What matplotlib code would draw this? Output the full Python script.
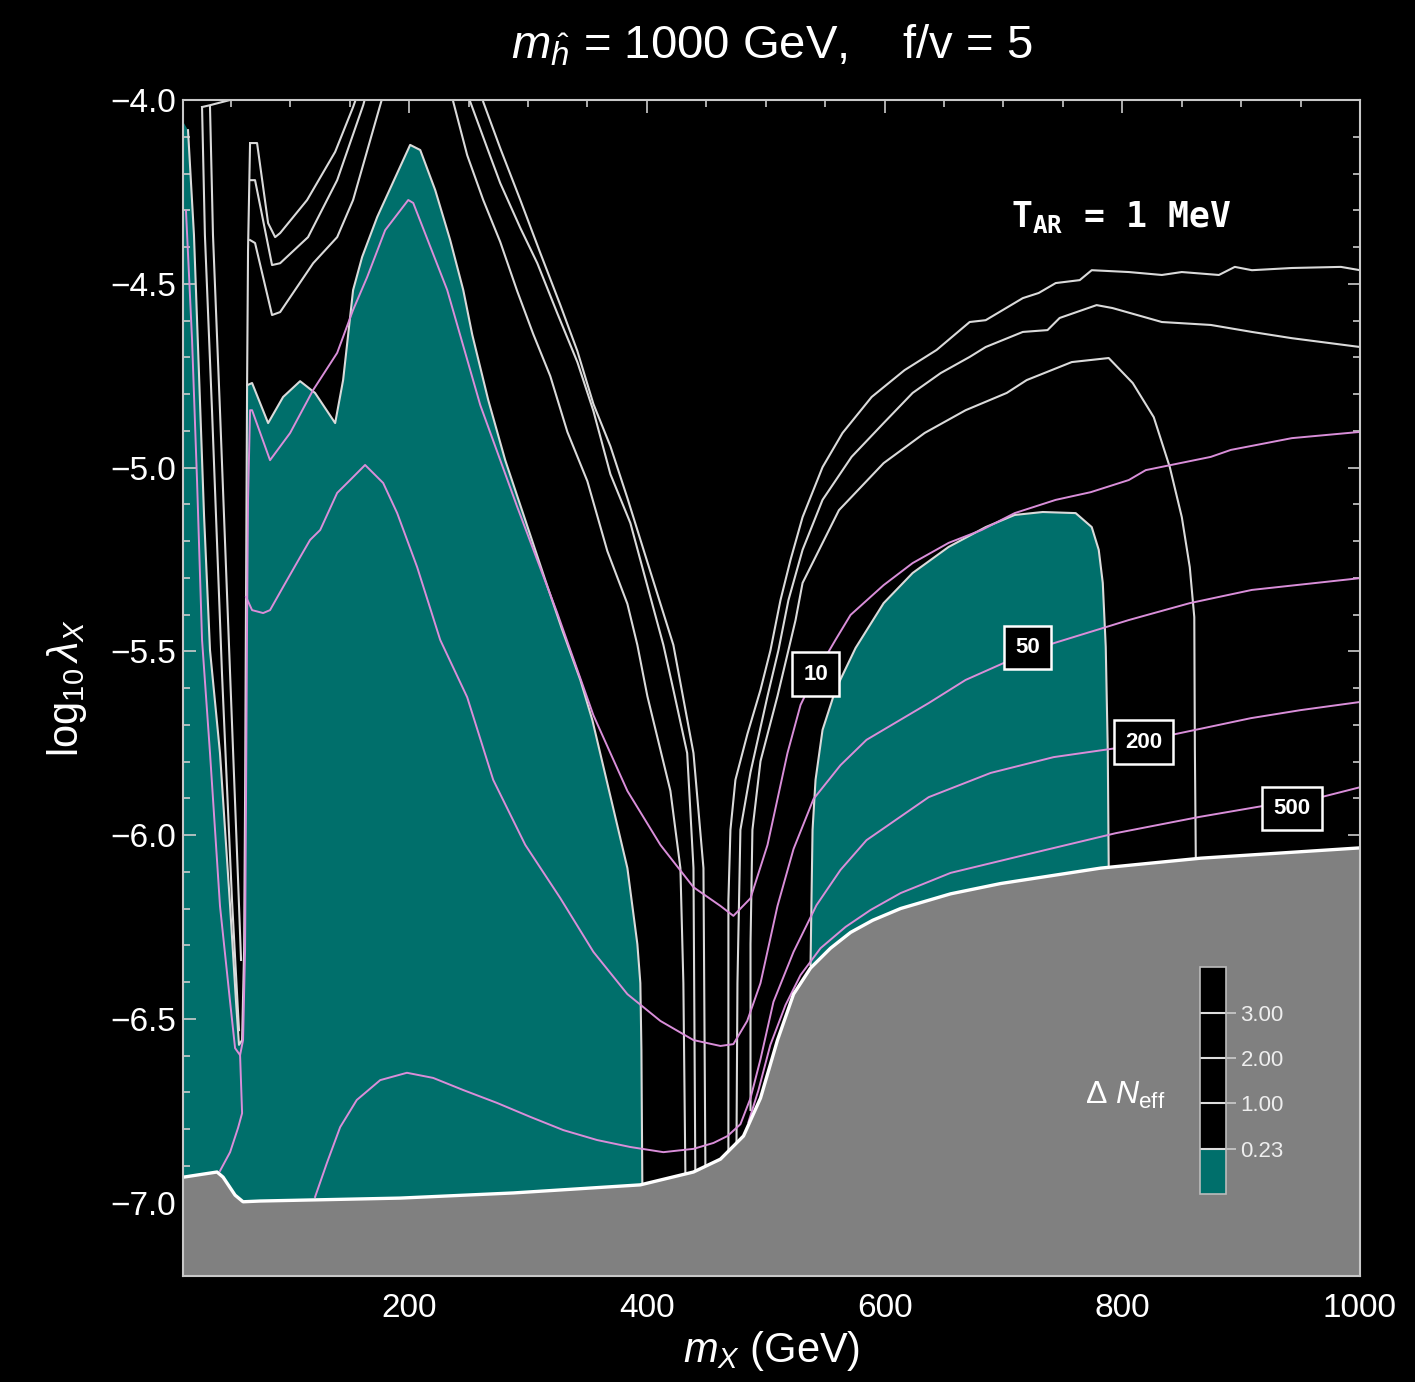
import matplotlib
matplotlib.use('Agg')
import matplotlib.pyplot as plt
from matplotlib.colors import ListedColormap, BoundaryNorm
from matplotlib.cm import ScalarMappable
from matplotlib.ticker import MultipleLocator, FuncFormatter

plt.rcParams['font.family'] = ['Liberation Sans', 'DejaVu Sans']
plt.rcParams['mathtext.fontset'] = 'custom'
plt.rcParams['mathtext.rm'] = 'Liberation Sans'
plt.rcParams['mathtext.it'] = 'Liberation Sans:italic'
plt.rcParams['mathtext.bf'] = 'Liberation Sans:bold'
plt.rcParams['mathtext.sf'] = 'Liberation Sans'
plt.rcParams['mathtext.tt'] = 'DejaVu Sans Mono:bold'

# --- data (m_X in GeV, log10 lambda_X) ---

# lower edge of the allowed region (grey below)
bnd_x = [10, 38.3, 43.4, 53.5, 60.2, 74.5, 192.4, 287.6, 394.5, 439.2, 461.9, 481.3,
         495.6, 509.9, 523.4, 537.7, 554.5, 571.4, 590.0, 613.5, 655.6, 697.7, 781.9,
         866.1, 1000]
bnd_y = [-6.931, -6.917, -6.931, -6.980, -6.998, -6.996, -6.988, -6.974, -6.952, -6.917,
         -6.882, -6.819, -6.716, -6.558, -6.433, -6.362, -6.308, -6.265, -6.232, -6.200,
         -6.160, -6.132, -6.090, -6.063, -6.035]

# Delta N_eff < 0.23 region, left part (strip + big lobe)
teal_a_x = [10, 13.9, 18.9, 23.2, 27.4, 32.4, 40.8, 49.3, 54.3, 56.8, 59.4, 61.1, 61.9,
            62.7, 63.6, 67.8, 81.3, 93.9, 108.2, 120.8, 137.7, 144.4, 152.8, 160.4, 173.1,
            189.9, 200.8, 209.3, 221.9, 234.5, 245.5, 253.1, 266.5, 280.8, 297.7, 314.5,
            328.8, 344.0, 354.1, 365.1, 383.6, 392.0, 394.5, 395.4, 396.2]
teal_a_y = [-4.060, -4.082, -4.367, -4.751, -5.132, -5.497, -5.777, -6.193, -6.454, -6.571,
            -6.558, -6.313, -5.905, -5.361, -4.776, -4.770, -4.879, -4.808, -4.765, -4.797,
            -4.879, -4.762, -4.517, -4.427, -4.318, -4.199, -4.122, -4.136, -4.245, -4.381,
            -4.517, -4.639, -4.816, -4.980, -5.143, -5.306, -5.442, -5.578, -5.687, -5.837,
            -6.090, -6.297, -6.403, -6.585, -6.966]

# Delta N_eff < 0.23 region, right part
teal_b_x = [537.7, 538.5, 539.4, 541.9, 547.8, 558.7, 575.6, 599.2, 623.6, 653.9, 685.1,
            709.5, 733.1, 760.8, 774.3, 780.2, 783.6, 786.1, 787.8, 788.6]
teal_b_y = [-6.354, -6.177, -5.986, -5.850, -5.714, -5.605, -5.491, -5.369, -5.287, -5.216,
            -5.162, -5.129, -5.121, -5.124, -5.162, -5.224, -5.314, -5.488, -5.769, -6.087]

# white Delta N_eff contours
spike_in1_x = [25.7, 28.1, 34.1, 42.5, 50.9, 56.8]
spike_in1_y = [-4.019, -4.367, -4.846, -5.562, -6.177, -6.531]
spike_in2_x = [32.4, 34.9, 40.8, 49.3, 56.0, 58.5]
spike_in2_y = [-4.019, -4.367, -4.846, -5.562, -6.122, -6.340]
spike_top_x = [25.7, 32.4, 55.0]
spike_top_y = [-4.019, -4.014, -3.995]
vert_x = [66.1, 64.4, 63.6]
vert_y = [-4.117, -4.408, -4.776]

v1_x = [66.1, 72.0, 81.3, 87.2, 91.4, 114.1, 137.7, 152.8, 155.4]
v1_y = [-4.117, -4.117, -4.335, -4.373, -4.362, -4.272, -4.141, -4.019, -3.995]
v2_x = [66.1, 70.3, 84.6, 91.4, 114.9, 139.4, 161.3, 162.9]
v2_y = [-4.218, -4.218, -4.449, -4.444, -4.373, -4.218, -4.014, -3.995]
v3_x = [66.1, 70.3, 84.6, 91.4, 119.2, 139.4, 152.8, 175.6, 177.3]
v3_y = [-4.381, -4.389, -4.585, -4.577, -4.444, -4.373, -4.272, -4.014, -3.995]

valley1_x = [237.1, 248.8, 262.3, 276.6, 290.9, 304.4, 318.7, 333.1, 349.9, 366.7, 383.6,
             392.0, 400.4, 419.8, 428.2, 430.7, 432.4]
valley1_y = [-4.005, -4.150, -4.272, -4.386, -4.520, -4.637, -4.751, -4.903, -5.037, -5.227,
             -5.371, -5.483, -5.622, -5.880, -6.090, -6.403, -6.923]
valley2_x = [251.4, 265.7, 276.6, 293.5, 307.8, 324.6, 341.5, 355.0, 369.3, 386.1, 400.4,
             413.9, 422.3, 433.9, 439.2, 440.8]
valley2_y = [-4.005, -4.131, -4.226, -4.348, -4.444, -4.580, -4.713, -4.846, -5.018, -5.151,
             -5.322, -5.483, -5.605, -5.777, -6.090, -6.939]
valley3_x = [262.3, 276.6, 293.5, 310.3, 327.2, 341.5, 355.0, 369.3, 383.6, 400.4, 422.3,
             439.2, 447.6, 449.3]
valley3_y = [-4.005, -4.131, -4.272, -4.416, -4.558, -4.683, -4.827, -4.942, -5.083, -5.257,
             -5.483, -5.777, -6.090, -6.939]

arch1_x = [1000, 984.0, 942.7, 909.1, 894.7, 881.3, 850.1, 833.3, 805.5, 774.3, 764.2, 744.0,
           729.7, 716.3, 685.1, 671.6, 643.8, 616.8, 589.1, 564.6, 547.8, 531.0, 520.8, 512.4,
           504.0, 495.6, 484.6, 474.5, 470.3, 468.6, 468.6]
arch1_y = [-4.463, -4.454, -4.457, -4.463, -4.454, -4.476, -4.468, -4.476, -4.468, -4.463,
           -4.490, -4.498, -4.525, -4.539, -4.599, -4.604, -4.680, -4.735, -4.808, -4.906,
           -4.999, -5.135, -5.252, -5.361, -5.497, -5.605, -5.725, -5.850, -5.986, -6.177,
           -6.857]
arch2_x = [1000, 942.7, 909.1, 874.5, 833.3, 791.8, 778.4, 747.3, 737.1, 716.3, 685.1, 671.6,
           647.2, 623.6, 599.2, 572.2, 547.8, 531.0, 519.1, 510.7, 501.5, 487.2, 478.7, 476.2,
           475.4]
arch2_y = [-4.672, -4.648, -4.631, -4.612, -4.604, -4.566, -4.558, -4.593, -4.626, -4.631,
           -4.672, -4.699, -4.743, -4.797, -4.879, -4.971, -5.088, -5.224, -5.361, -5.497,
           -5.622, -5.829, -5.986, -6.403, -6.844]
arch3_x = [861.9, 861.9, 861.1, 860.6, 856.8, 850.1, 840.0, 826.5, 808.8, 788.6, 757.5, 719.6,
           702.8, 668.2, 633.7, 599.2, 561.6, 531.0, 525.1, 519.1, 509.9, 495.6, 488.8, 487.2,
           487.2]
arch3_y = [-6.095, -6.074, -5.769, -5.407, -5.271, -5.135, -4.999, -4.863, -4.770, -4.702,
           -4.713, -4.762, -4.797, -4.844, -4.906, -4.988, -5.116, -5.314, -5.415, -5.497,
           -5.622, -5.799, -5.986, -6.297, -6.748]

# pink contours (labelled 10, 50, 200, 500)
p10_x = [12.2, 17.3, 21.5, 25.7, 32.4, 40.8, 49.3, 53.5, 57.7, 60.2, 61.9, 62.7, 63.6, 64.4,
         66.1, 67.8, 82.9, 99.8, 119.2, 139.4, 152.8, 164.6, 179.8, 199.2, 203.4, 232.0,
         259.8, 290.9, 324.6, 355.0, 383.6, 411.4, 439.2, 461.9, 472.8, 487.2, 501.5, 518.3,
         529.3, 541.9, 558.7, 571.4, 599.2, 623.6, 653.9, 681.7, 709.5, 744.0, 773.5, 805.5,
         819.8, 874.5, 891.4, 942.7, 1000]
p10_y = [-4.302, -4.653, -5.037, -5.469, -5.777, -6.193, -6.454, -6.580, -6.599, -6.558,
         -6.313, -5.905, -5.415, -5.088, -4.844, -4.844, -4.980, -4.906, -4.789, -4.688,
         -4.571, -4.482, -4.354, -4.272, -4.280, -4.517, -4.830, -5.107, -5.396, -5.674,
         -5.880, -6.027, -6.142, -6.193, -6.220, -6.172, -6.027, -5.777, -5.646, -5.562,
         -5.469, -5.401, -5.320, -5.260, -5.205, -5.170, -5.124, -5.088, -5.067, -5.034,
         -5.007, -4.971, -4.952, -4.920, -4.903]
p50_x = [62.7, 67.8, 77.1, 82.9, 93.9, 108.2, 116.6, 125.1, 139.4, 150.3, 162.9, 178.1,
         189.9, 206.7, 226.1, 248.8, 270.7, 297.7, 327.2, 355.0, 383.6, 411.4, 439.2, 461.9,
         472.8, 484.4, 495.6, 509.9, 523.4, 540.2, 562.9, 584.8, 637.1, 668.2, 700.2, 720.4,
         742.3, 786.5, 805.5, 856.8, 909.1, 1000]
p50_y = [-5.352, -5.388, -5.396, -5.388, -5.325, -5.244, -5.197, -5.170, -5.069, -5.034,
         -4.993, -5.042, -5.124, -5.271, -5.469, -5.625, -5.850, -6.027, -6.172, -6.318,
         -6.433, -6.506, -6.558, -6.574, -6.569, -6.506, -6.403, -6.193, -6.038, -5.902,
         -5.810, -5.741, -5.641, -5.578, -5.532, -5.505, -5.478, -5.434, -5.415, -5.369,
         -5.333, -5.301]
p200_x = [120.8, 130.7, 141.9, 155.9, 175.6, 198.1, 220.2, 245.5, 273.9, 301.9, 329.7, 358.1,
          386.1, 413.9, 439.2, 456.0, 467.9, 478.7, 487.2, 495.6, 506.5, 523.4, 542.7, 562.9,
          584.8, 637.1, 689.3, 742.3, 796.2, 818.1, 840.8, 908.2, 950.3, 1000]
p200_y = [-6.985, -6.893, -6.795, -6.721, -6.667, -6.647, -6.661, -6.694, -6.729, -6.767,
          -6.803, -6.830, -6.849, -6.863, -6.854, -6.838, -6.819, -6.787, -6.716, -6.610,
          -6.454, -6.318, -6.191, -6.095, -6.014, -5.897, -5.831, -5.788, -5.763, -5.747,
          -5.728, -5.682, -5.660, -5.638]
p500_x = [485.5, 493.9, 503.9, 516.6, 529.3, 546.1, 567.2, 588.2, 613.5, 655.6, 724.7, 794.5,
          864.4, 918.3, 942.7, 967.2, 1000]
p500_y = [-6.781, -6.694, -6.571, -6.463, -6.381, -6.308, -6.250, -6.204, -6.158, -6.103,
          -6.049, -5.995, -5.951, -5.921, -5.927, -5.897, -5.870]
pink_tail_x = [57.7, 59.4, 56.0, 49.3, 40.8]
pink_tail_y = [-6.599, -6.757, -6.797, -6.863, -6.914]

clabel_txt = ['10', '50', '200', '500']
clabel_x = [542.0, 720.4, 818.1, 942.7]
clabel_y = [-5.562, -5.489, -5.747, -5.927]

cbar_bounds = [-0.54, 0.23, 1.0, 2.0, 3.0, 4.0]
cbar_ticks = [0.23, 1.0, 2.0, 3.0]

TEAL = '#006f6b'
GRAY = '#808080'
WLINE = '#dadada'
PINK = '#d98ed9'

fig = plt.figure(figsize=(14.15, 13.82), dpi=100, facecolor='black')
ax = fig.add_axes([0.1296, 0.0767, 0.8315, 0.8509])
ax.set_facecolor('black')

# shaded regions
ax.fill(teal_a_x + [396.2, 10], teal_a_y + [-7.25, -7.25], color=TEAL, lw=0, zorder=1)
ax.fill(teal_b_x + [788.6, 537.7], teal_b_y + [-6.25, -6.45], color=TEAL, lw=0, zorder=1)

# white contours
wkw = dict(color=WLINE, lw=1.5, zorder=2, solid_joinstyle='round')
for xs, ys in [(teal_a_x[1:], teal_a_y[1:]), (teal_b_x, teal_b_y),
               (spike_in1_x, spike_in1_y), (spike_in2_x, spike_in2_y),
               (spike_top_x, spike_top_y), (vert_x, vert_y),
               (v1_x, v1_y), (v2_x, v2_y), (v3_x, v3_y),
               (valley1_x, valley1_y), (valley2_x, valley2_y), (valley3_x, valley3_y),
               (arch1_x, arch1_y), (arch2_x, arch2_y), (arch3_x, arch3_y)]:
    ax.plot(xs, ys, **wkw)

# pink contours
pkw = dict(color=PINK, lw=1.4, zorder=3, solid_joinstyle='round')
for xs, ys in [(p10_x, p10_y), (p50_x, p50_y), (p200_x, p200_y),
               (p500_x, p500_y), (pink_tail_x, pink_tail_y)]:
    ax.plot(xs, ys, **pkw)

# excluded region
ax.fill_between(bnd_x, bnd_y, -7.3, color=GRAY, lw=0, zorder=4)
ax.plot(bnd_x, bnd_y, color='white', lw=2.4, zorder=5)

for t, x, y in zip(clabel_txt, clabel_x, clabel_y):
    ax.text(x, y, t, color='white', fontsize=16, weight='bold', ha='center', va='center',
            zorder=6, bbox=dict(boxstyle='square,pad=0.5', fc='black', ec='white', lw=1.8))

ax.text(706, -4.345, r'$\mathtt{T_{AR}}$ = 1 MeV', color='white', fontsize=25,
        family='DejaVu Sans Mono', weight='bold', va='baseline', zorder=6)

ax.set_xlim(10, 1000)
ax.set_ylim(-7.2, -4.0)
ax.set_xticks([200, 400, 600, 800, 1000])
ax.xaxis.set_minor_locator(MultipleLocator(50))
ax.yaxis.set_major_locator(MultipleLocator(0.5))
ax.yaxis.set_minor_locator(MultipleLocator(0.1))
ax.yaxis.set_major_formatter(FuncFormatter(lambda v, p: f'{v:.1f}'.replace('-', '\u2212')))
ax.tick_params(which='both', direction='in', top=True, right=True, color='#cccccc',
               labelcolor='white', labelsize=24, width=1.2)
ax.tick_params(which='major', length=9)
ax.tick_params(which='minor', length=5)
ax.tick_params(axis='x', pad=12)
ax.tick_params(axis='y', pad=5)
for s in ax.spines.values():
    s.set_color('#c8c8c8')
    s.set_linewidth(1.5)
    s.set_zorder(7)

ax.set_xlabel(r'$m_X$ (GeV)', color='white', fontsize=30)
ax.xaxis.set_label_coords(0.5, -0.045)
ax.set_ylabel(r'$\log_{10}\lambda_X$', color='white', fontsize=30)
ax.yaxis.set_label_coords(-0.08, 0.5)

fig.text(0.5455, 0.967, r'$m_{\hat{h}}$ = 1000 GeV,    f/v = 5', color='white',
         fontsize=34, ha='center', va='center')

# Delta N_eff legend bar
cax = fig.add_axes([0.848, 0.136, 0.0184, 0.164])
cmap = ListedColormap([TEAL, 'black', 'black', 'black', 'black'])
norm = BoundaryNorm(cbar_bounds, cmap.N)
cb = fig.colorbar(ScalarMappable(norm=norm, cmap=cmap), cax=cax, ticks=cbar_ticks,
                  spacing='uniform', drawedges=True, format='%.2f')
cb.outline.set_edgecolor('#bbbbbb')
cb.outline.set_linewidth(1.2)
cb.dividers.set_color('#dddddd')
cb.dividers.set_linewidth(1.5)
cax.tick_params(color='#cccccc', labelcolor='#eeeeee', labelsize=16, length=7, width=1.2)
cax.yaxis.set_minor_locator(plt.NullLocator())
fig.text(0.795, 0.207, r'$\Delta\ N_{\mathrm{eff}}$', color='white', fontsize=23,
         ha='center', va='center')

fig.savefig('out.png', dpi=100, facecolor='black')
